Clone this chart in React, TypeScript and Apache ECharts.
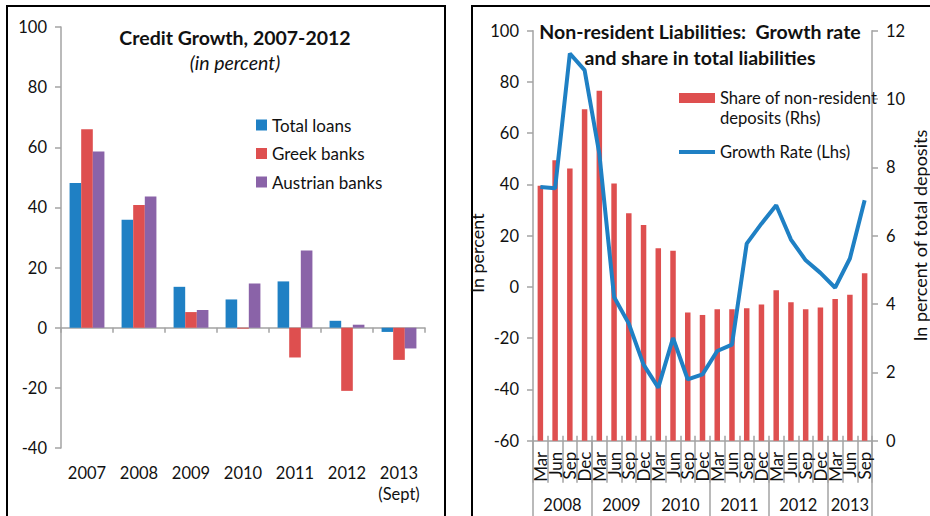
import React, { useEffect, useRef } from 'react';
import * as echarts from 'echarts';

// ---------- Left panel: Credit Growth ----------
const creditYears = ['2007', '2008', '2009', '2010', '2011', '2012', '2013\n(Sept)'];
const totalLoans = [48.1, 35.9, 13.6, 9.4, 15.4, 2.3, -1.4];
const greekBanks = [66.0, 40.8, 5.2, -0.3, -9.9, -21.0, -10.7];
const austrianBanks = [58.6, 43.6, 5.9, 14.7, 25.7, 1.0, -6.9];
const creditSeriesNames = ['Total loans', 'Greek banks', 'Austrian banks'];

// ---------- Right panel: Non-resident liabilities ----------
const quarterLabels = [
  'Mar', 'Jun', 'Sep', 'Dec',
  'Mar', 'Jun', 'Sep', 'Dec',
  'Mar', 'Jun', 'Sep', 'Dec',
  'Mar', 'Jun', 'Sep', 'Dec',
  'Mar', 'Jun', 'Sep', 'Dec',
  'Mar', 'Jun', 'Sep',
];
const yearLabels = ['2008', '2009', '2010', '2011', '2012', '2013'];
const quartersPerYear = [4, 4, 4, 4, 4, 3];
const shareNonResident = [
  7.46, 8.21, 7.97, 9.70, 10.24, 7.53, 6.66, 6.31, 5.63, 5.56, 3.75, 3.68,
  3.85, 3.85, 3.88, 3.99, 4.40, 4.05, 3.85, 3.90, 4.15, 4.27, 4.90,
];
const growthRate = [
  39.0, 38.5, 91.1, 84.6, 52.0, -3.9, -14.3, -30.3, -39.3, -19.9, -36.1, -34.1,
  -25.0, -22.5, 16.9, 24.7, 31.9, 18.5, 10.4, 5.5, -0.3, 11.1, 33.8,
];
const shareName = 'Share of non-resident\ndeposits (Rhs)';
const growthName = 'Growth Rate (Lhs)';

const FONT = 'Lato, "Noto Sans", sans-serif';
const AXIS = '#a3a3a3';
const TXT = '#111111';
const BLUE = '#1f80c4';
const RED = '#de4f4f';
const PURPLE = '#8a63a8';

export default function App() {
  const ref = useRef<HTMLDivElement>(null);

  useEffect(() => {
    if (!ref.current) return;
    const chart = echarts.init(ref.current, undefined, { renderer: 'svg' });

    const yearBounds: number[] = [0];
    const yearCenters: number[] = [];
    let acc = 0;
    quartersPerYear.forEach((n) => {
      yearCenters.push(acc + n / 2);
      acc += n;
      yearBounds.push(acc);
    });
    const totalQuarters = acc;

    const axisLS = { color: AXIS, width: 1.5 };
    const titleStyle = { fontFamily: FONT, fontWeight: 'bold', fontSize: 19.5, fill: TXT, align: 'center', verticalAlign: 'middle' };

    const option: any = {
      animation: false,
      textStyle: { fontFamily: FONT },
      grid: [
        { left: 61, top: 27, width: 364, height: 421 },
        { left: 533, top: 30.7, width: 354, height: 410 },
      ],
      xAxis: [
        {
          type: 'category', gridIndex: 0, data: creditYears,
          axisLine: { onZero: true, onZeroAxisIndex: 0, lineStyle: axisLS },
          axisTick: { show: true, interval: 0, length: 5, lineStyle: axisLS },
          axisLabel: { show: false }, splitLine: { show: false },
        },
        {
          type: 'category', gridIndex: 0, data: creditYears, position: 'bottom',
          axisLine: { show: false, onZero: false },
          axisTick: { show: false },
          axisLabel: { interval: 0, margin: 14, fontSize: 16.5, color: TXT, lineHeight: 21, fontFamily: FONT },
        },
        {
          type: 'category', gridIndex: 1, data: quarterLabels, position: 'bottom',
          axisLine: { show: false, onZero: false },
          axisTick: { show: true, interval: 0, length: 42, lineStyle: axisLS },
          axisLabel: { interval: 0, rotate: 90, margin: 11, fontSize: 17, color: TXT, fontFamily: FONT },
        },
        {
          type: 'category', gridIndex: 1, data: quarterLabels,
          axisLine: { onZero: true, onZeroAxisIndex: 2, lineStyle: axisLS },
          axisTick: { show: true, interval: 0, length: 5, lineStyle: axisLS },
          axisLabel: { show: false },
        },
        {
          type: 'value', gridIndex: 1, min: 0, max: totalQuarters, position: 'bottom',
          axisLine: { show: false, onZero: false },
          splitLine: { show: false },
          axisTick: { show: true, customValues: yearBounds, length: 76, lineStyle: axisLS },
          axisLabel: {
            customValues: yearCenters, margin: 56, fontSize: 16.5, color: TXT, fontFamily: FONT,
            formatter: (v: number) => {
              const i = yearCenters.findIndex((c) => Math.abs(c - v) < 1e-6);
              return i >= 0 ? yearLabels[i] : '';
            },
          },
        },
      ],
      yAxis: [
        {
          type: 'value', gridIndex: 0, min: -40, max: 100, interval: 20,
          axisLine: { show: true, onZero: false, lineStyle: axisLS },
          axisTick: { show: true, length: 6, lineStyle: axisLS },
          splitLine: { show: false },
          axisLabel: { margin: 14, fontSize: 16.5, color: TXT, fontFamily: FONT },
        },
        {
          type: 'value', gridIndex: 1, min: -60, max: 100, interval: 20, position: 'left',
          name: 'In percent', nameLocation: 'middle', nameGap: 30, nameRotate: 90,
          nameTextStyle: { fontSize: 18, color: TXT, fontFamily: FONT, padding: [0, 35, 0, 0] },
          axisLine: { show: true, onZero: false, lineStyle: axisLS },
          axisTick: { show: true, length: 6, lineStyle: axisLS },
          splitLine: { show: false },
          axisLabel: { margin: 14, fontSize: 16.5, color: TXT, fontFamily: FONT },
        },
        {
          type: 'value', gridIndex: 1, min: 0, max: 12, interval: 2, position: 'right',
          name: 'In percent of total deposits', nameLocation: 'middle', nameGap: 39, nameRotate: 90,
          nameTextStyle: { fontSize: 18, color: TXT, fontFamily: FONT },
          axisLine: { show: true, onZero: false, lineStyle: axisLS },
          axisTick: { show: true, length: 6, lineStyle: axisLS },
          splitLine: { show: false },
          axisLabel: { margin: 14, fontSize: 16.5, color: TXT, fontFamily: FONT },
        },
      ],
      legend: [
        {
          left: 251, top: 111, orient: 'vertical', itemWidth: 11, itemHeight: 11, itemGap: 10.5,
          icon: 'rect', data: creditSeriesNames,
          textStyle: { fontSize: 17, color: TXT, lineHeight: 18, fontFamily: FONT },
        },
        {
          left: 672, top: 63, orient: 'vertical', itemWidth: 36, itemHeight: 10, itemGap: 14,
          data: [
            { name: shareName, icon: 'rect' },
            { name: growthName, itemStyle: { opacity: 0 }, lineStyle: { width: 4, color: BLUE } },
          ],
          formatter: (name: string) => (name === shareName ? '\n' + name : name),
          textStyle: { fontSize: 16.6, color: TXT, lineHeight: 20, fontFamily: FONT },
        },
      ],
      series: [
        {
          name: creditSeriesNames[0], type: 'bar', xAxisIndex: 0, yAxisIndex: 0, data: totalLoans,
          itemStyle: { color: BLUE }, barGap: '0%', barCategoryGap: '33%',
        },
        {
          name: creditSeriesNames[1], type: 'bar', xAxisIndex: 0, yAxisIndex: 0, data: greekBanks,
          itemStyle: { color: RED }, barGap: '0%', barCategoryGap: '33%',
        },
        {
          name: creditSeriesNames[2], type: 'bar', xAxisIndex: 0, yAxisIndex: 0, data: austrianBanks,
          itemStyle: { color: PURPLE }, barGap: '0%', barCategoryGap: '33%',
        },
        {
          name: shareName, type: 'bar', xAxisIndex: 2, yAxisIndex: 2, data: shareNonResident,
          itemStyle: { color: RED }, barWidth: 5.5,
        },
        {
          name: growthName, type: 'line', xAxisIndex: 2, yAxisIndex: 1, data: growthRate,
          symbol: 'none', z: 3,
          lineStyle: { width: 4, color: BLUE }, itemStyle: { color: BLUE },
        },
      ],
      graphic: [
        { type: 'rect', silent: true, shape: { x: 7, y: 6, width: 438, height: 540 }, style: { fill: 'none', stroke: '#000', lineWidth: 2 } },
        { type: 'rect', silent: true, shape: { x: 472, y: 6, width: 480, height: 540 }, style: { fill: 'none', stroke: '#000', lineWidth: 2 } },
        { type: 'text', x: 235, y: 37, z: 10, style: { ...titleStyle, text: 'Credit Growth, 2007-2012' } },
        { type: 'text', x: 235, y: 62, z: 10, style: { ...titleStyle, fontWeight: 'normal', fontStyle: 'italic', text: '(in percent)' } },
        { type: 'text', x: 700, y: 31, z: 10, style: { ...titleStyle, text: 'Non-resident Liabilities:  Growth rate' } },
        { type: 'text', x: 700, y: 57, z: 10, style: { ...titleStyle, text: 'and share in total liabilities' } },
      ],
    };

    chart.setOption(option);
    return () => chart.dispose();
  }, []);

  return (
    <div
      ref={ref}
      style={{ position: 'fixed', left: 0, top: 0, width: 930, height: 516, background: '#fff' }}
    />
  );
}
